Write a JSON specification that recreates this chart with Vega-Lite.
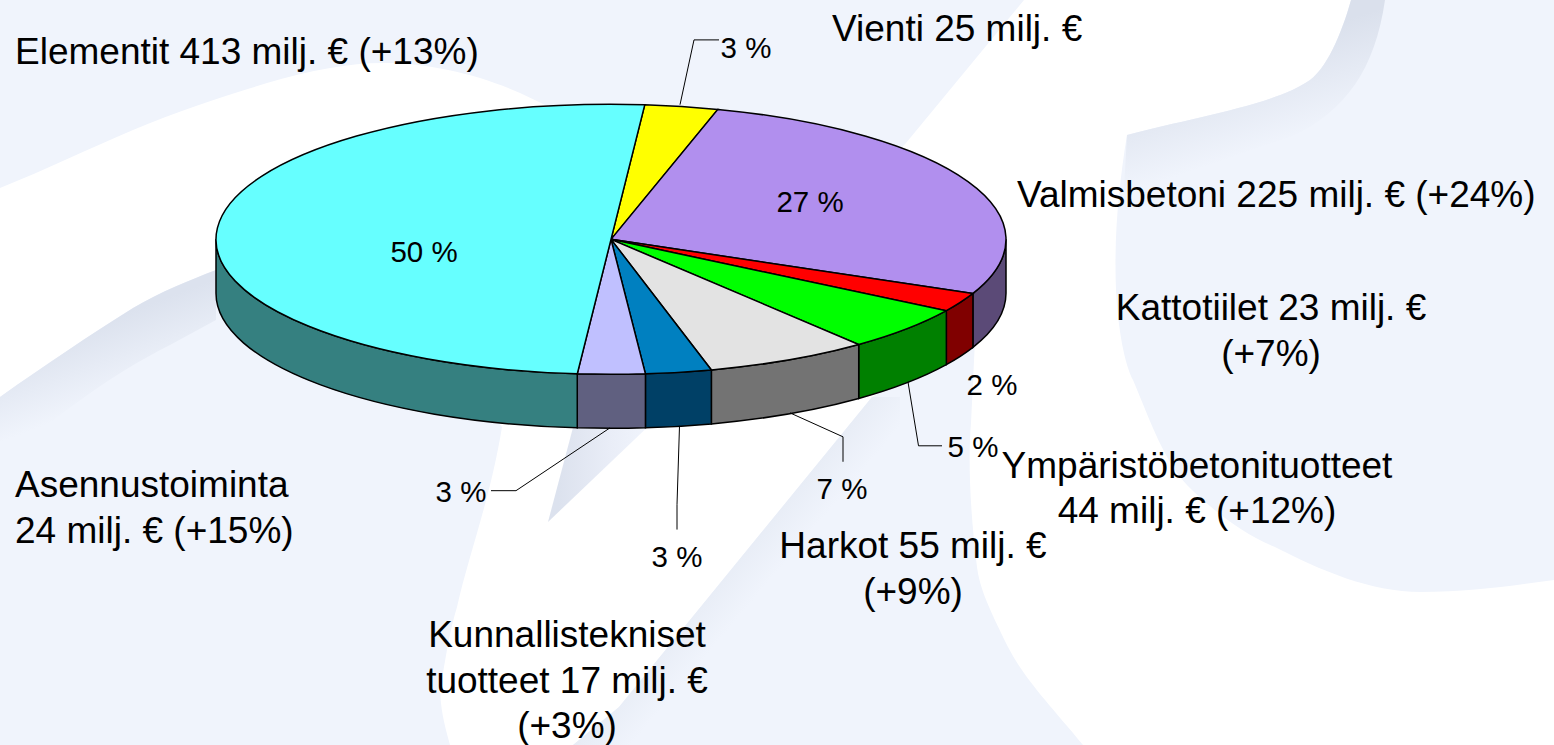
{
"$schema":"https://vega.github.io/schema/vega-lite/v6.json",
"width":1554,"height":745,
"autosize":{"type":"fit","contains":"padding"},
"padding":0,
"background":"#f0f4fc",
"config":{"view":{"stroke":null}},
"datasets":{
"slices":[
{"ord":1,"slice":"Vienti","milj":25,"share":3.0},
{"ord":2,"slice":"Valmisbetoni","milj":225,"share":27.2},
{"ord":3,"slice":"Kattotiilet","milj":23,"share":2.3},
{"ord":4,"slice":"Ympäristöbetonituotteet","milj":44,"share":5.35},
{"ord":5,"slice":"Harkot","milj":55,"share":6.7},
{"ord":6,"slice":"Kunnallistekniset tuotteet","milj":17,"share":2.7},
{"ord":7,"slice":"Asennustoiminta","milj":24,"share":2.75},
{"ord":8,"slice":"Elementit","milj":413,"share":50.0}
],
"leaders":[
{"slice":"Vienti","o":1,"px":680,"py":105},{"slice":"Vienti","o":2,"px":694,"py":40},{"slice":"Vienti","o":3,"px":719,"py":40},
{"slice":"Ymp","o":1,"px":908,"py":383},{"slice":"Ymp","o":2,"px":918.5,"py":447},{"slice":"Ymp","o":3,"px":942,"py":447},
{"slice":"Harkot","o":1,"px":790,"py":414},{"slice":"Harkot","o":2,"px":843,"py":438},{"slice":"Harkot","o":3,"px":843,"py":463},
{"slice":"Kunn","o":1,"px":679.5,"py":427},{"slice":"Kunn","o":2,"px":677,"py":506},{"slice":"Kunn","o":3,"px":677,"py":531},
{"slice":"Asen","o":1,"px":610,"py":429},{"slice":"Asen","o":2,"px":516,"py":492},{"slice":"Asen","o":3,"px":491,"py":492}
],
"pct":[
{"t":"50 %","px":424,"py":254},{"t":"27 %","px":810,"py":204},{"t":"3 %","px":746,"py":49},{"t":"2 %","px":992,"py":387},
{"t":"5 %","px":973,"py":449},{"t":"7 %","px":842,"py":491},{"t":"3 %","px":677,"py":560},{"t":"3 %","px":461,"py":494}
],
"labelsLeft":[
{"t":"Elementit 413 milj. € (+13%)","px":15,"py":64},
{"t":"Vienti 25 milj. €","px":832,"py":41},
{"t":"Valmisbetoni 225 milj. € (+24%)","px":1017,"py":208},
{"t":"Asennustoiminta\n24 milj. € (+15%)","px":15,"py":498}
],
"labelsCenter":[
{"t":"Kattotiilet 23 milj. €\n(+7%)","px":1271,"py":321},
{"t":"Ympäristöbetonituotteet\n44 milj. € (+12%)","px":1197,"py":479},
{"t":"Harkot 55 milj. €\n(+9%)","px":913,"py":560},
{"t":"Kunnallistekniset\ntuotteet 17 milj. €\n(+3%)","px":567,"py":649}
]
},
"encoding":{
"x":{"type":"quantitative","scale":{"domain":[0,1554],"nice":false,"zero":false},"axis":null},
"y":{"type":"quantitative","scale":{"domain":[0,745],"nice":false,"zero":false,"reverse":true},"axis":null}
},
"layer":[
{"data":{"values":[{"part":"backdrop"}]},
 "mark":{"type":"point","filled":true,"opacity":1,"size":4,"strokeWidth":0,"fill":"#ffffff",
 "shape":"M0 188C45 170 90 148 133 130C180 110 225 96 267 83C310 70 350 63 383 63C430 63 480 75 520 93L640 150L880 170L906 143L1024 0L1351 0C1344 25 1330 65 1310 80C1275 105 1190 118 1127 135C1118 190 1114 240 1116 290C1118 330 1125 365 1133 380C1150 420 1165 465 1192 490C1215 512 1245 535 1275 547C1320 570 1370 592 1421 592C1470 592 1510 586 1554 580L1554 745L1083 745C1050 705 1025 680 1008 647C990 610 980 590 977 567C970 510 968 460 971 423L975 340L872 397L619 707L573 745L450 745C440 710 438 690 443 673C447 650 450 630 457 607C470 550 490 500 502 427L400 300L216 270C190 280 160 292 133 308C90 335 45 365 0 397Z"},
 "encoding":{"x":{"datum":0},"y":{"datum":0}}},
{"data":{"values":[{"part":"wedge"}]},
 "mark":{"type":"point","filled":true,"opacity":1,"size":4,"strokeWidth":0,
 "fill":{"gradient":"linear","x1":0.1,"y1":0.5,"x2":0.9,"y2":0.5,"stops":[{"offset":0,"color":"#dce2ee"},{"offset":0.6,"color":"#e9edf7"},{"offset":1,"color":"#f0f4fc"}]},
 "shape":"M548 522L575 420L655 420Z"},
 "encoding":{"x":{"datum":0},"y":{"datum":0}}},
{"data":{"values":[{"part":"diagonal shadow"}]},
 "mark":{"type":"point","filled":true,"opacity":1,"size":4,"strokeWidth":0,
 "fill":{"gradient":"linear","x1":0.3,"y1":0.35,"x2":0.6,"y2":0.62,"stops":[{"offset":0.15,"color":"#dde3ee"},{"offset":0.85,"color":"#f0f4fc"}]},
 "shape":"M872 397L619 707L573 745L680 745L900 440L900 397Z"},
 "encoding":{"x":{"datum":0},"y":{"datum":0}}},
{"data":{"values":[{"part":"corner shadow"}]},
 "mark":{"type":"point","filled":true,"opacity":1,"size":4,"strokeWidth":0,
 "fill":{"gradient":"linear","x1":0.55,"y1":0.2,"x2":0.7,"y2":0.6,"stops":[{"offset":0,"color":"#dae0ec"},{"offset":1,"color":"#f0f4fc"}]},
 "shape":"M1127 135C1190 118 1275 105 1310 80C1330 65 1344 25 1351 0L1385 0C1375 70 1345 110 1295 135L1180 175L1122 225Z"},
 "encoding":{"x":{"datum":0},"y":{"datum":0}}},
{"data":{"values":[{"part":"left shadow"}]},
 "mark":{"type":"point","filled":true,"opacity":1,"size":4,"strokeWidth":0,
 "fill":{"gradient":"linear","x1":0.4,"y1":0.3,"x2":0.55,"y2":0.65,"stops":[{"offset":0,"color":"#dce2ee"},{"offset":1,"color":"#f0f4fc"}]},
 "shape":"M0 397C45 365 90 335 133 308C160 292 190 280 216 270L216 320L170 345C110 375 50 420 0 465Z"},
 "encoding":{"x":{"datum":0},"y":{"datum":0}}},
{"data":{"name":"slices"},
 "transform":[
  {"stack":"share","groupby":[],"sort":[{"field":"ord","order":"ascending"}],"as":["s0","s1"]},
  {"calculate":"4.9+datum.s0*3.6","as":"a0"},
  {"calculate":"4.9+datum.s1*3.6","as":"a1"},
  {"filter":"datum.a1>90 && datum.a0<270"},
  {"calculate":"max(datum.a0,90)*PI/180","as":"w0"},
  {"calculate":"min(datum.a1,270)*PI/180","as":"w1"},
  {"calculate":"round(395*sin(datum.w0)*100)/100","as":"x0"},
  {"calculate":"round(-135*cos(datum.w0)*100)/100","as":"y0"},
  {"calculate":"round(395*sin(datum.w1)*100)/100","as":"x1"},
  {"calculate":"round(-135*cos(datum.w1)*100)/100","as":"y1"},
  {"calculate":"'M'+datum.x0+' '+datum.y0+'A395 135 0 0 1 '+datum.x1+' '+datum.y1+'L'+datum.x1+' '+(datum.y1+54)+'A395 135 0 0 0 '+datum.x0+' '+(datum.y0+54)+'Z'","as":"path"}
 ],
 "mark":{"type":"point","filled":true,"opacity":1,"size":4,"stroke":"#000000","strokeWidth":1.5},
 "encoding":{
  "x":{"datum":611},
  "y":{"datum":240},
  "shape":{"field":"path","type":"nominal","scale":null,"legend":null},
  "fill":{"field":"slice","type":"nominal","legend":null,"scale":{"domain":["Vienti","Valmisbetoni","Kattotiilet","Ympäristöbetonituotteet","Harkot","Kunnallistekniset tuotteet","Asennustoiminta","Elementit"],"range":["#808000","#5b4a77","#800000","#008000","#737373","#004066","#606080","#358080"]}}
 }},
{"data":{"name":"slices"},
 "transform":[
  {"stack":"share","groupby":[],"sort":[{"field":"ord","order":"ascending"}],"as":["s0","s1"]},
  {"calculate":"(4.9+datum.s0*3.6)*PI/180","as":"a0"},
  {"calculate":"(4.9+datum.s1*3.6)*PI/180","as":"a1"},
  {"calculate":"round(395*sin(datum.a0)*100)/100","as":"x0"},
  {"calculate":"round(-135*cos(datum.a0)*100)/100","as":"y0"},
  {"calculate":"round(395*sin(datum.a1)*100)/100","as":"x1"},
  {"calculate":"round(-135*cos(datum.a1)*100)/100","as":"y1"},
  {"calculate":"datum.a1-datum.a0>PI?1:0","as":"large"},
  {"calculate":"'M0 0L'+datum.x0+' '+datum.y0+'A395 135 0 '+datum.large+' 1 '+datum.x1+' '+datum.y1+'Z'","as":"path"},
  {"calculate":"datum.slice+' '","as":"topKey"}
 ],
 "mark":{"type":"point","filled":true,"opacity":1,"size":4,"stroke":"#000000","strokeWidth":1.5},
 "encoding":{
  "x":{"datum":611},
  "y":{"datum":240},
  "shape":{"field":"path","type":"nominal","scale":null,"legend":null},
  "fill":{"field":"topKey","type":"nominal","legend":null,"scale":{"domain":["Vienti ","Valmisbetoni ","Kattotiilet ","Ympäristöbetonituotteet ","Harkot ","Kunnallistekniset tuotteet ","Asennustoiminta ","Elementit "],"range":["#ffff00","#b18fee","#ff0000","#00ff00","#e3e3e3","#0080c0","#c0c0ff","#66ffff"]}}
 }},
{"data":{"name":"leaders"},
 "mark":{"type":"line","color":"#000000","strokeWidth":1,"interpolate":"linear"},
 "encoding":{
  "x":{"field":"px"},
  "y":{"field":"py"},
  "detail":{"field":"slice"},
  "order":{"field":"o","type":"quantitative"}
 }},
{"data":{"name":"pct"},
 "mark":{"type":"text","font":"Liberation Sans","fontSize":29.5,"align":"center","baseline":"middle","color":"#000000"},
 "encoding":{"x":{"field":"px"},"y":{"field":"py"},"text":{"field":"t"}}},
{"data":{"name":"labelsLeft"},
 "mark":{"type":"text","font":"Liberation Sans","fontSize":37,"align":"left","baseline":"alphabetic","lineBreak":"\n","lineHeight":46,"color":"#000000"},
 "encoding":{"x":{"field":"px"},"y":{"field":"py"},"text":{"field":"t"}}},
{"data":{"name":"labelsCenter"},
 "mark":{"type":"text","font":"Liberation Sans","fontSize":37,"align":"center","baseline":"alphabetic","lineBreak":"\n","lineHeight":45.5,"color":"#000000"},
 "encoding":{"x":{"field":"px"},"y":{"field":"py"},"text":{"field":"t"}}}
],
"resolve":{"scale":{"fill":"independent","shape":"independent"}}
}
